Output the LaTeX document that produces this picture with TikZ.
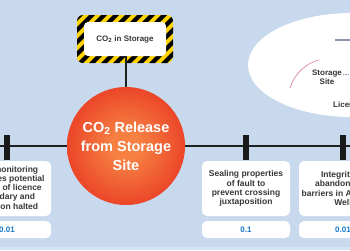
\documentclass[tikz,border=0pt]{standalone}
\usepackage{fontspec}
\setmainfont{Liberation Sans}
\usetikzlibrary{positioning}
\definecolor{bgblue}{RGB}{200,217,238}
\definecolor{bgpale}{RGB}{214,227,244}
\definecolor{relred}{RGB}{228,28,22}
\definecolor{relorange}{RGB}{246,128,66}
\definecolor{hazyellow}{RGB}{255,212,0}
\definecolor{valblue}{RGB}{25,120,200}
\definecolor{txtgrey}{RGB}{55,55,55}
\definecolor{greyblue}{RGB}{140,150,172}
\definecolor{sitepink}{RGB}{214,120,140}
\pgfdeclareradialshading{releaseball}{\pgfpoint{0bp}{0bp}}{%
  color(0bp)=(relorange); color(6bp)=(relorange);
  color(24bp)=(relorange!45!relred); color(40bp)=(relred); color(50bp)=(relred)}
\tikzset{
  link/.style={line width=2pt, draw=black!88},
  event/.style={circle, minimum size=118pt, inner sep=0pt, shading=releaseball,
    text=white, align=center, font=\fontsize{14.5}{19}\selectfont\bfseries},
  storebox/.style={fill=white, rounded corners=4pt, minimum width=82pt,
    minimum height=34pt, inner sep=0pt, text=txtgrey,
    font=\fontsize{8}{9}\selectfont\bfseries},
  tickmark/.style={fill=black!90, minimum width=6pt, minimum height=25pt, inner sep=0pt},
  barrier/.style={fill=white, rounded corners=5pt, minimum width=88pt,
    minimum height=55pt, inner sep=0pt, align=center, text=txtgrey,
    font=\fontsize{8.5}{9.2}\selectfont\bfseries},
  prob/.style={fill=white, rounded corners=5pt, minimum width=88pt,
    minimum height=17pt, inner sep=0pt, text=valblue,
    font=\fontsize{8}{9}\selectfont\bfseries},
  sitetext/.style={inner sep=1pt, text=txtgrey, font=\fontsize{8}{9}\selectfont\bfseries},
}
\begin{document}
\begin{tikzpicture}[x=1pt,y=-1pt]
\useasboundingbox (0,0) rectangle (350,250);
\clip (0,0) rectangle (350,250);
\fill[bgblue] (0,0) rectangle (350,250);
\fill[bgpale] (0,247) rectangle (350,250);

% site plan, top right
\fill[white] (352,65) ellipse [x radius=104pt, y radius=52pt];
\draw[sitepink, line width=0.6pt] (290,88) arc[start angle=163, end angle=105, radius=42pt];
\coordinate (planA) at (335,40);
\coordinate (planB) at (352,40);
\draw[greyblue, line width=1.5pt] (planA) -- (planB);
\node[sitetext, align=center] (sitelbl) at (327,77) {Storage\\Site};
\coordinate (siteedge) at (352,74);
\draw[greyblue, densely dotted, line width=0.7pt] ([yshift=3pt]sitelbl.east) -- (siteedge);
\node[sitetext, anchor=west] (licence) at (332,105) {Licence};

% bow-tie axis
\coordinate (axisW) at (0,146);
\coordinate (axisE) at (350,146);
\draw[link] (axisW) -- (axisE);

% hazard
\begin{scope}
  \clip[rounded corners=6pt] (77,15) rectangle (173,63);
  \fill[hazyellow] (77,15) rectangle (173,63);
  \foreach \s in {77,89,...,221}
    \fill[black] (\s,15) -- ++(6,0) -- ++(-48,48) -- ++(-6,0) -- cycle;
\end{scope}
\node[storebox] (storage) at (125,39) {CO\textsubscript{2} in Storage};

% top event
\node[event] (release) at (126,146) {CO\textsubscript{2} Release\\from Storage\\Site};
\draw[link] (storage.south -| release.north) -- (release.north);

% barriers
\node[tickmark] (tickA) at (7,147.5) {};
\node[tickmark] (tickB) at (246,147.5) {};
\node[tickmark] (tickC) at (343,147.5) {};

\node[barrier] (monitor) at (7,188.5) {Site monitoring\\identifies potential\\breach of licence\\boundary and\\injection halted};
\node[prob] (monitorP) at (7,229.5) {0.01};

\node[barrier] (fault) at (246,188.5) {Sealing properties\\of fault to\\prevent crossing\\juxtaposition};
\node[prob] (faultP) at (246,229.5) {0.1};

\node[barrier] (wells) at (343,188.5) {Integrity of\\abandonment\\barriers in Appraisal\\Well};
\node[prob] (wellsP) at (343,229.5) {0.01};
\end{tikzpicture}
\end{document}
